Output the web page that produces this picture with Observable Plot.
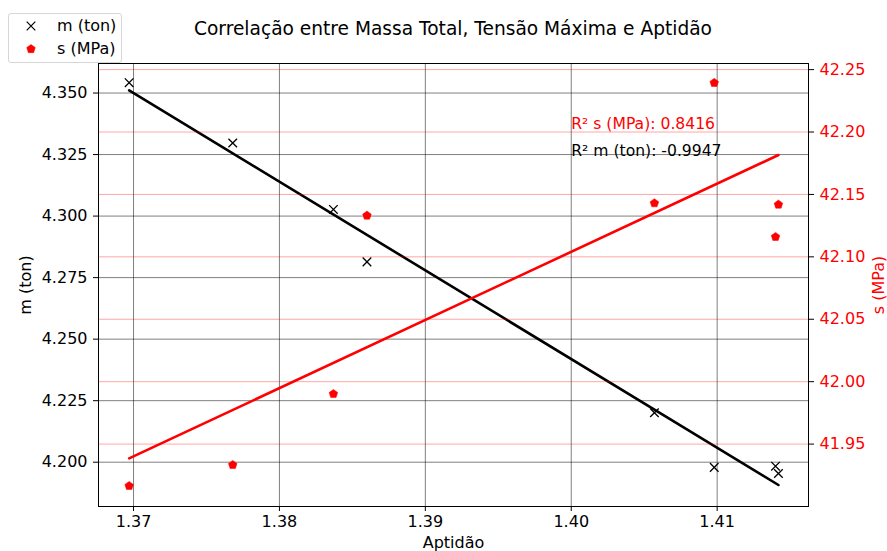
<!DOCTYPE html>
<html><head><meta charset="utf-8">
<script src="https://cdn.jsdelivr.net/npm/d3@7"></script>
<script src="https://cdn.jsdelivr.net/npm/@observablehq/plot@0.6"></script>
<style>
body{margin:0;background:#fff;font-family:"DejaVu Sans",sans-serif;}
#wrap{position:relative;width:887px;height:551px;overflow:hidden;background:#fff}
#title{position:absolute;left:98px;width:710px;top:18px;line-height:22px;text-align:center;font-size:18.6px;color:#000;white-space:nowrap}
#legend{position:absolute;left:8px;top:13px;width:112px;height:48px;border:1px solid #d6d6d6;border-radius:3px;background:rgba(255,255,255,0.8);font-size:16px;color:#000}
#legend .row{position:absolute;left:0;height:20px;line-height:20px;white-space:nowrap}
#legend svg{position:absolute;left:13px;top:1px}
#legend span{position:absolute;left:48px}
</style></head><body>
<div id="wrap"><div id="chart"></div>
<div id="title">Correlação entre Massa Total, Tensão Máxima e Aptidão</div>
<div id="legend">
  <div class="row" style="top:2px"><svg width="18" height="18"><path d="M4.7,4.7L13.3,13.3M4.7,13.3L13.3,4.7" stroke="#000" stroke-width="1.2"/></svg><span>m (ton)</span></div>
  <div class="row" style="top:25px"><svg width="18" height="18" id="pent"></svg><span>s (MPa)</span></div>
</div>
</div>
<script>
// ---- data ----
const aptidao = [1.3697, 1.3768, 1.3837, 1.3860, 1.4057, 1.4098, 1.4140, 1.4142];
const massa   = [4.3542, 4.3297, 4.3027, 4.2814, 4.2201, 4.1979, 4.1984, 4.1954];
const tensao  = [41.9165, 41.9333, 41.9902, 42.1331, 42.1430, 42.2394, 42.1160, 42.1419];
const xTicks = [1.37, 1.38, 1.39, 1.40, 1.41];
const mTicks = [4.200, 4.225, 4.250, 4.275, 4.300, 4.325, 4.350];
const sTicks = [41.95, 42.00, 42.05, 42.10, 42.15, 42.20, 42.25];
const annotations = [
  {x: 1.40, y: 4.3376, text: "R² s (MPa): 0.8416", color: "red"},
  {x: 1.40, y: 4.3263, text: "R² m (ton): -0.9947", color: "black"}
];
const xDomain = [1.3676, 1.41626];
const mDomain = [4.182, 4.362];
const sDomain = [41.900, 42.2549];

// twin-axis mapping (s -> left scale units)
const toLeft = s => mDomain[0] + (s - sDomain[0]) * (mDomain[1] - mDomain[0]) / (sDomain[1] - sDomain[0]);
const fromLeft = v => sDomain[0] + (v - mDomain[0]) * (sDomain[1] - sDomain[0]) / (mDomain[1] - mDomain[0]);

const mData = aptidao.map((x, i) => ({x, y: massa[i]}));
const sData = aptidao.map((x, i) => ({x, y: toLeft(tensao[i])}));

const pentagon = {draw(ctx, size) {
  const r = Math.sqrt(size / Math.PI);
  for (let i = 0; i < 5; i++) {
    const a = -Math.PI / 2 + i * 2 * Math.PI / 5;
    const px = r * Math.cos(a), py = r * Math.sin(a);
    if (i) ctx.lineTo(px, py); else ctx.moveTo(px, py);
  }
  ctx.closePath();
}};
const times = {draw(ctx, size) {
  const r = Math.sqrt(size / Math.PI);
  ctx.moveTo(-r, -r); ctx.lineTo(r, r);
  ctx.moveTo(-r, r); ctx.lineTo(r, -r);
}};

const grid = {stroke: "black", strokeOpacity: 0.5, strokeWidth: 1};
const plot = Plot.plot({
  width: 887, height: 551,
  marginLeft: 98, marginRight: 79, marginTop: 63, marginBottom: 45,
  style: {fontFamily: "DejaVu Sans", fontSize: "16px", background: "white", color: "black"},
  x: {domain: xDomain},
  y: {domain: mDomain},
  marks: [
    Plot.gridX(xTicks, grid),
    Plot.gridY(mTicks, grid),
    Plot.dot(mData, {x: "x", y: "y", symbol: times, r: 4.3, stroke: "black", strokeWidth: 1.3}),
    Plot.linearRegressionY(mData, {x: "x", y: "y", ci: 0, stroke: "black", strokeWidth: 2.6}),
    Plot.gridY(sTicks.map(toLeft), {stroke: "red", strokeOpacity: 0.35, strokeWidth: 1}),
    Plot.dot(sData, {x: "x", y: "y", symbol: pentagon, r: 4.5, fill: "red", stroke: "red", strokeWidth: 0.5}),
    Plot.linearRegressionY(sData, {x: "x", y: "y", ci: 0, stroke: "red", strokeWidth: 2.6}),
    Plot.text(annotations, {x: "x", y: "y", text: "text", fill: d => d.color, textAnchor: "start", lineAnchor: "middle", fontSize: 15.6}),
    Plot.frame({stroke: "black", strokeWidth: 1}),
    Plot.axisX(xTicks, {tickFormat: d3.format(".2f"), tickSize: 5, tickPadding: 4, label: "Aptidão", labelAnchor: "center", labelArrow: "none", labelOffset: 41}),
    Plot.axisY(mTicks, {anchor: "left", tickFormat: d3.format(".3f"), tickSize: 5, tickPadding: 6, label: "m (ton)", labelAnchor: "center", labelArrow: "none", labelOffset: 79}),
    Plot.axisY(sTicks.map(toLeft), {anchor: "right", tickFormat: d => fromLeft(d).toFixed(2), tickSize: 5, tickPadding: 6, stroke: "black", fill: "red", label: "s (MPa)", labelAnchor: "center", labelArrow: "none", labelOffset: 75})
  ]
});
document.getElementById("chart").appendChild(plot);

// legend pentagon via same symbol
const ps = d3.select("#pent");
ps.append("path").attr("transform", "translate(9,9)").attr("d", d3.symbol(pentagon, 4.5 * 4.5 * Math.PI)()).attr("fill", "red").attr("stroke", "red").attr("stroke-width", 0.5);
</script>
</body></html>
